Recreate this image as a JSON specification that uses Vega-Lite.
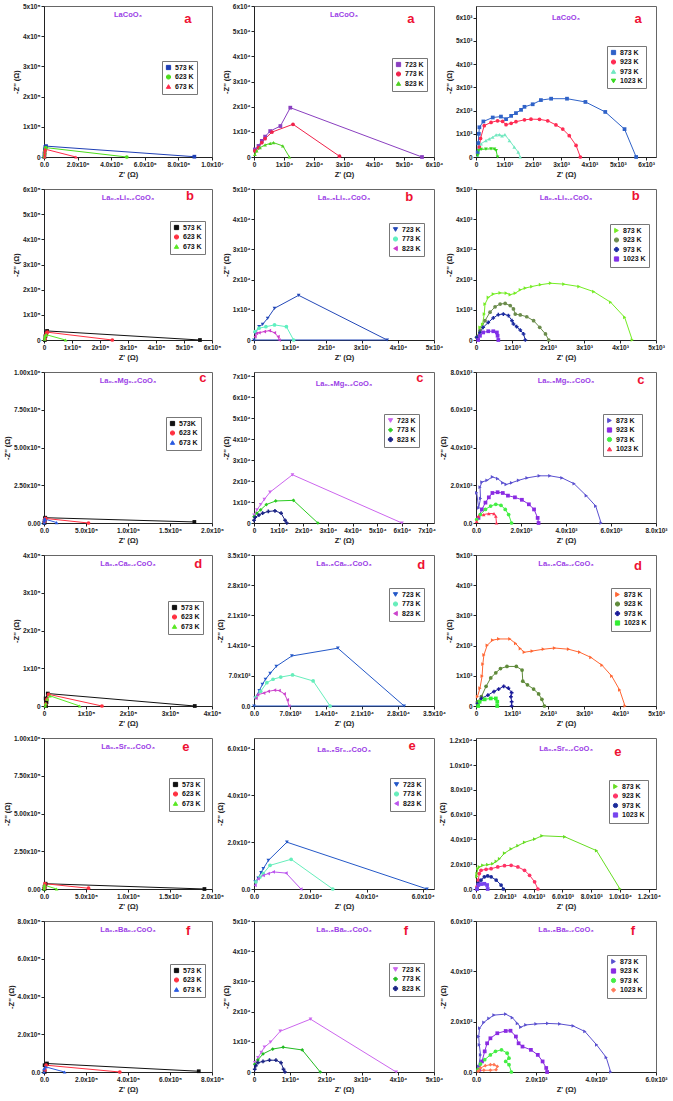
{
"$schema": "https://vega.github.io/schema/vega-lite/v6.json",
"padding": {"left": 2, "top": 2, "right": 0, "bottom": 0},
"background": "white",
"bounds": "flush",
"align": "each",
"columns": 3,
"spacing": {"row": 32, "column": 42},
"resolve": {"scale": {"color": "independent", "shape": "independent"}},
"config": {
 "font": "Liberation Sans",
 "view": {"stroke": "#666", "strokeWidth": 1},
 "axis": {"grid": false, "labelFontSize": 6.5, "labelFontWeight": "bold", "labelColor": "#222", "titleFontSize": 7.5, "titleFontWeight": "bold", "titleColor": "#222", "domainColor": "#222", "tickColor": "#222", "tickSize": 3, "labelPadding": 1, "titlePadding": 3, "labelFlush": false, "labelOverlap": false},
 "axisY": {"titlePadding": 2},
 "legend": {"strokeColor": "#777", "fillColor": "#ffffff", "padding": 3, "labelFontSize": 7, "labelFontWeight": "bold", "labelColor": "#111", "symbolSize": 18, "rowPadding": 0.5, "labelOffset": 3, "symbolStrokeWidth": 1},
 "title": {"font": "Liberation Sans"}
},
"datasets": {
"p11": [
{"s":"573 K","x":20000,"y":0},{"s":"573 K","x":30000,"y":12000},{"s":"573 K","x":50000,"y":25000},{"s":"573 K","x":80000,"y":33000},{"s":"573 K","x":120000,"y":36000},{"s":"573 K","x":8950000,"y":1000},
{"s":"623 K","x":20000,"y":0},{"s":"623 K","x":40000,"y":10000},{"s":"623 K","x":60000,"y":20000},{"s":"623 K","x":90000,"y":28000},{"s":"623 K","x":110000,"y":31000},{"s":"623 K","x":4930000,"y":0},
{"s":"673 K","x":40000,"y":0},{"s":"673 K","x":45000,"y":8000},{"s":"673 K","x":50000,"y":16000},{"s":"673 K","x":60000,"y":23000},{"s":"673 K","x":70000,"y":26000},{"s":"673 K","x":1900000,"y":0}
],
"p12": [
{"s":"723 K","x":300,"y":3000},{"s":"723 K","x":1500,"y":4400},{"s":"723 K","x":2600,"y":6400},{"s":"723 K","x":3700,"y":8100},{"s":"723 K","x":5400,"y":10300},{"s":"723 K","x":8800,"y":12300},{"s":"723 K","x":12100,"y":19600},{"s":"723 K","x":56000,"y":0},
{"s":"773 K","x":300,"y":2400},{"s":"773 K","x":1500,"y":3700},{"s":"773 K","x":2600,"y":5700},{"s":"773 K","x":3700,"y":7300},{"s":"773 K","x":6000,"y":9900},{"s":"773 K","x":13000,"y":13000},{"s":"773 K","x":28500,"y":300},
{"s":"823 K","x":300,"y":1000},{"s":"823 K","x":900,"y":2400},{"s":"823 K","x":2000,"y":3700},{"s":"823 K","x":3700,"y":4800},{"s":"823 K","x":5400,"y":5400},{"s":"823 K","x":6500,"y":5700},{"s":"823 K","x":9600,"y":4400},{"s":"823 K","x":11800,"y":0}
],
"p13": [
{"s":"873 K","x":60,"y":200},{"s":"873 K","x":80,"y":600},{"s":"873 K","x":100,"y":1000},{"s":"873 K","x":120,"y":1280},{"s":"873 K","x":260,"y":1530},{"s":"873 K","x":590,"y":1700},{"s":"873 K","x":880,"y":1740},{"s":"873 K","x":1060,"y":1630},{"s":"873 K","x":1240,"y":1770},{"s":"873 K","x":1410,"y":1890},{"s":"873 K","x":1590,"y":2030},{"s":"873 K","x":1710,"y":2160},{"s":"873 K","x":2000,"y":2270},{"s":"873 K","x":2290,"y":2450},{"s":"873 K","x":2650,"y":2510},{"s":"873 K","x":3210,"y":2510},{"s":"873 K","x":3860,"y":2370},{"s":"873 K","x":4560,"y":1940},{"s":"873 K","x":5240,"y":1200},{"s":"873 K","x":5650,"y":0},
{"s":"923 K","x":120,"y":430},{"s":"923 K","x":160,"y":800},{"s":"923 K","x":290,"y":1350},{"s":"923 K","x":530,"y":1490},{"s":"923 K","x":760,"y":1560},{"s":"923 K","x":940,"y":1530},{"s":"923 K","x":1060,"y":1390},{"s":"923 K","x":1240,"y":1450},{"s":"923 K","x":1410,"y":1520},{"s":"923 K","x":1710,"y":1600},{"s":"923 K","x":1940,"y":1630},{"s":"923 K","x":2240,"y":1620},{"s":"923 K","x":2530,"y":1560},{"s":"923 K","x":2820,"y":1380},{"s":"923 K","x":3060,"y":1200},{"s":"923 K","x":3290,"y":920},{"s":"923 K","x":3530,"y":500},{"s":"923 K","x":3680,"y":0},
{"s":"973 K","x":60,"y":70},{"s":"973 K","x":180,"y":570},{"s":"973 K","x":350,"y":710},{"s":"973 K","x":470,"y":780},{"s":"973 K","x":590,"y":850},{"s":"973 K","x":710,"y":950},{"s":"973 K","x":830,"y":960},{"s":"973 K","x":920,"y":910},{"s":"973 K","x":1020,"y":960},{"s":"973 K","x":1180,"y":710},{"s":"973 K","x":1350,"y":430},{"s":"973 K","x":1490,"y":210},{"s":"973 K","x":1560,"y":0},
{"s":"1023 K","x":60,"y":70},{"s":"1023 K","x":90,"y":280},{"s":"1023 K","x":180,"y":330},{"s":"1023 K","x":350,"y":340},{"s":"1023 K","x":530,"y":350},{"s":"1023 K","x":650,"y":340},{"s":"1023 K","x":710,"y":280},{"s":"1023 K","x":760,"y":0}
],
"p21": [
{"s":"573 K","x":3000,"y":0},{"s":"573 K","x":5000,"y":15000},{"s":"573 K","x":8000,"y":28000},{"s":"573 K","x":11000,"y":36000},{"s":"573 K","x":557000,"y":0},
{"s":"623 K","x":4000,"y":5000},{"s":"623 K","x":6000,"y":18000},{"s":"623 K","x":9000,"y":28000},{"s":"623 K","x":12000,"y":31000},{"s":"623 K","x":244000,"y":0},
{"s":"673 K","x":2000,"y":3000},{"s":"673 K","x":3000,"y":11000},{"s":"673 K","x":5000,"y":18000},{"s":"673 K","x":8000,"y":21000},{"s":"673 K","x":77000,"y":0}
],
"p22": [
{"s":"723 K","x":300,"y":2200},{"s":"723 K","x":1400,"y":4400},{"s":"723 K","x":2400,"y":5200},{"s":"723 K","x":3800,"y":7200},{"s":"723 K","x":5700,"y":10500},{"s":"723 K","x":12400,"y":14800},{"s":"723 K","x":37000,"y":0},{"s":"723 K","x":0,"y":0},
{"s":"773 K","x":300,"y":2800},{"s":"773 K","x":1400,"y":3900},{"s":"773 K","x":3300,"y":4400},{"s":"773 K","x":5700,"y":5000},{"s":"773 K","x":9000,"y":4400},{"s":"773 K","x":11000,"y":0},
{"s":"823 K","x":300,"y":1100},{"s":"823 K","x":700,"y":2200},{"s":"823 K","x":1400,"y":2400},{"s":"823 K","x":2900,"y":2800},{"s":"823 K","x":4300,"y":3100},{"s":"823 K","x":5700,"y":2400},{"s":"823 K","x":6700,"y":1100},{"s":"823 K","x":7000,"y":0}
],
"p23": [
{"s":"873 K","x":40,"y":90},{"s":"873 K","x":110,"y":420},{"s":"873 K","x":180,"y":520},{"s":"873 K","x":230,"y":860},{"s":"873 K","x":250,"y":1190},{"s":"873 K","x":340,"y":1410},{"s":"873 K","x":480,"y":1520},{"s":"873 K","x":670,"y":1560},{"s":"873 K","x":840,"y":1550},{"s":"873 K","x":950,"y":1500},{"s":"873 K","x":1090,"y":1550},{"s":"873 K","x":1230,"y":1660},{"s":"873 K","x":1370,"y":1720},{"s":"873 K","x":1550,"y":1770},{"s":"873 K","x":1790,"y":1830},{"s":"873 K","x":2070,"y":1880},{"s":"873 K","x":2440,"y":1850},{"s":"873 K","x":2860,"y":1770},{"s":"873 K","x":3270,"y":1600},{"s":"873 K","x":3740,"y":1250},{"s":"873 K","x":4130,"y":750},{"s":"873 K","x":4340,"y":0},
{"s":"923 K","x":20,"y":90},{"s":"923 K","x":110,"y":310},{"s":"923 K","x":250,"y":640},{"s":"923 K","x":390,"y":920},{"s":"923 K","x":530,"y":1100},{"s":"923 K","x":670,"y":1190},{"s":"923 K","x":810,"y":1210},{"s":"923 K","x":950,"y":1140},{"s":"923 K","x":1040,"y":1030},{"s":"923 K","x":1090,"y":860},{"s":"923 K","x":1230,"y":830},{"s":"923 K","x":1410,"y":770},{"s":"923 K","x":1600,"y":640},{"s":"923 K","x":1770,"y":420},{"s":"923 K","x":1930,"y":200},{"s":"923 K","x":2020,"y":0},
{"s":"973 K","x":20,"y":90},{"s":"973 K","x":110,"y":250},{"s":"973 K","x":200,"y":420},{"s":"973 K","x":340,"y":580},{"s":"973 K","x":480,"y":730},{"s":"973 K","x":620,"y":840},{"s":"973 K","x":760,"y":860},{"s":"973 K","x":900,"y":810},{"s":"973 K","x":1000,"y":640},{"s":"973 K","x":1040,"y":530},{"s":"973 K","x":1130,"y":440},{"s":"973 K","x":1230,"y":330},{"s":"973 K","x":1320,"y":200},{"s":"973 K","x":1370,"y":0},
{"s":"1023 K","x":60,"y":0},{"s":"1023 K","x":110,"y":140},{"s":"1023 K","x":200,"y":250},{"s":"1023 K","x":340,"y":290},{"s":"1023 K","x":480,"y":290},{"s":"1023 K","x":580,"y":250},{"s":"1023 K","x":600,"y":140},{"s":"1023 K","x":620,"y":0}
],
"p31": [
{"s":"573K","x":5000,"y":0},{"s":"573K","x":8000,"y":15000},{"s":"573K","x":10000,"y":30000},{"s":"573K","x":15000,"y":35000},{"s":"573K","x":1790000,"y":7000},
{"s":"623 K","x":6000,"y":10000},{"s":"623 K","x":10000,"y":25000},{"s":"623 K","x":20000,"y":30000},{"s":"623 K","x":530000,"y":0},
{"s":"673 K","x":3000,"y":0},{"s":"673 K","x":4000,"y":15000},{"s":"673 K","x":6000,"y":28000},{"s":"673 K","x":12000,"y":26000},{"s":"673 K","x":150000,"y":3000}
],
"p32": [
{"s":"723 K","x":0,"y":3800},{"s":"723 K","x":1200,"y":6300},{"s":"723 K","x":2700,"y":8800},{"s":"723 K","x":4200,"y":11300},{"s":"723 K","x":6500,"y":14700},{"s":"723 K","x":15600,"y":23000},{"s":"723 K","x":60000,"y":0},
{"s":"773 K","x":0,"y":3000},{"s":"773 K","x":1200,"y":4700},{"s":"773 K","x":2700,"y":6300},{"s":"773 K","x":5000,"y":8800},{"s":"773 K","x":8800,"y":10500},{"s":"773 K","x":16000,"y":10800},{"s":"773 K","x":25900,"y":0},
{"s":"823 K","x":0,"y":1300},{"s":"823 K","x":500,"y":2700},{"s":"823 K","x":2000,"y":3800},{"s":"823 K","x":3500,"y":4700},{"s":"823 K","x":5800,"y":5500},{"s":"823 K","x":8500,"y":5800},{"s":"823 K","x":11000,"y":4700},{"s":"823 K","x":12600,"y":1300},{"s":"823 K","x":13300,"y":0}
],
"p33": [
{"s":"873 K","x":30,"y":1600},{"s":"873 K","x":120,"y":800},{"s":"873 K","x":200,"y":1300},{"s":"873 K","x":180,"y":1900},{"s":"873 K","x":260,"y":2170},{"s":"873 K","x":490,"y":2260},{"s":"873 K","x":730,"y":2440},{"s":"873 K","x":960,"y":2350},{"s":"873 K","x":1190,"y":2130},{"s":"873 K","x":1340,"y":2040},{"s":"873 K","x":1580,"y":2130},{"s":"873 K","x":1890,"y":2260},{"s":"873 K","x":2270,"y":2390},{"s":"873 K","x":2810,"y":2500},{"s":"873 K","x":3280,"y":2500},{"s":"873 K","x":3820,"y":2390},{"s":"873 K","x":4360,"y":2080},{"s":"873 K","x":4900,"y":1450},{"s":"873 K","x":5320,"y":900},{"s":"873 K","x":5560,"y":0},
{"s":"923 K","x":110,"y":270},{"s":"923 K","x":260,"y":720},{"s":"923 K","x":420,"y":1080},{"s":"923 K","x":570,"y":1360},{"s":"923 K","x":730,"y":1590},{"s":"923 K","x":960,"y":1630},{"s":"923 K","x":1190,"y":1590},{"s":"923 K","x":1420,"y":1450},{"s":"923 K","x":1730,"y":1360},{"s":"923 K","x":2040,"y":1230},{"s":"923 K","x":2350,"y":990},{"s":"923 K","x":2580,"y":720},{"s":"923 K","x":2740,"y":270},{"s":"923 K","x":2780,"y":0},
{"s":"973 K","x":30,"y":180},{"s":"973 K","x":190,"y":450},{"s":"973 K","x":420,"y":720},{"s":"973 K","x":650,"y":900},{"s":"973 K","x":880,"y":990},{"s":"973 K","x":1110,"y":940},{"s":"973 K","x":1300,"y":720},{"s":"973 K","x":1450,"y":450},{"s":"973 K","x":1580,"y":0},
{"s":"1023 K","x":30,"y":90},{"s":"1023 K","x":110,"y":360},{"s":"1023 K","x":340,"y":450},{"s":"1023 K","x":570,"y":500},{"s":"1023 K","x":800,"y":500},{"s":"1023 K","x":880,"y":360},{"s":"1023 K","x":910,"y":0}
],
"p41": [
{"s":"573 K","x":5000,"y":0},{"s":"573 K","x":6000,"y":10000},{"s":"573 K","x":4000,"y":20000},{"s":"573 K","x":9000,"y":33000},{"s":"573 K","x":359000,"y":0},
{"s":"623 K","x":4000,"y":5000},{"s":"623 K","x":7000,"y":18000},{"s":"623 K","x":11000,"y":31000},{"s":"623 K","x":138000,"y":0},
{"s":"673 K","x":3000,"y":0},{"s":"673 K","x":4000,"y":6000},{"s":"673 K","x":8000,"y":18000},{"s":"673 K","x":14000,"y":27000},{"s":"673 K","x":85000,"y":0}
],
"p42": [
{"s":"723 K","x":240,"y":1830},{"s":"723 K","x":1030,"y":3580},{"s":"723 K","x":1630,"y":5000},{"s":"723 K","x":2230,"y":6200},{"s":"723 K","x":3140,"y":7560},{"s":"723 K","x":4340,"y":9200},{"s":"723 K","x":7360,"y":11600},{"s":"723 K","x":16300,"y":13400},{"s":"723 K","x":29200,"y":0},{"s":"723 K","x":0,"y":0},
{"s":"773 K","x":400,"y":2000},{"s":"773 K","x":1300,"y":3400},{"s":"773 K","x":2500,"y":5400},{"s":"773 K","x":3700,"y":6200},{"s":"773 K","x":5200,"y":6700},{"s":"773 K","x":7500,"y":7200},{"s":"773 K","x":11500,"y":5800},{"s":"773 K","x":14800,"y":0},
{"s":"823 K","x":400,"y":1800},{"s":"823 K","x":700,"y":2600},{"s":"823 K","x":1900,"y":3000},{"s":"823 K","x":2800,"y":3400},{"s":"823 K","x":4000,"y":3660},{"s":"823 K","x":4900,"y":3580},{"s":"823 K","x":5900,"y":2800},{"s":"823 K","x":6500,"y":1400},{"s":"823 K","x":6800,"y":0}
],
"p43": [
{"s":"873 K","x":40,"y":310},{"s":"873 K","x":110,"y":590},{"s":"873 K","x":170,"y":990},{"s":"873 K","x":190,"y":1390},{"s":"873 K","x":220,"y":1690},{"s":"873 K","x":310,"y":2010},{"s":"873 K","x":460,"y":2180},{"s":"873 K","x":630,"y":2220},{"s":"873 K","x":940,"y":2220},{"s":"873 K","x":1100,"y":2070},{"s":"873 K","x":1230,"y":1900},{"s":"873 K","x":1340,"y":1780},{"s":"873 K","x":1560,"y":1820},{"s":"873 K","x":1870,"y":1880},{"s":"873 K","x":2180,"y":1920},{"s":"873 K","x":2570,"y":1880},{"s":"873 K","x":2880,"y":1780},{"s":"873 K","x":3190,"y":1610},{"s":"873 K","x":3500,"y":1350},{"s":"873 K","x":3770,"y":990},{"s":"873 K","x":3990,"y":530},{"s":"873 K","x":4140,"y":0},
{"s":"923 K","x":40,"y":140},{"s":"923 K","x":150,"y":310},{"s":"923 K","x":280,"y":650},{"s":"923 K","x":410,"y":930},{"s":"923 K","x":550,"y":1100},{"s":"923 K","x":680,"y":1240},{"s":"923 K","x":860,"y":1310},{"s":"923 K","x":1120,"y":1310},{"s":"923 K","x":1280,"y":1190},{"s":"923 K","x":1300,"y":820},{"s":"923 K","x":1430,"y":700},{"s":"923 K","x":1600,"y":560},{"s":"923 K","x":1740,"y":400},{"s":"923 K","x":1830,"y":220},{"s":"923 K","x":1900,"y":0},
{"s":"973 K","x":40,"y":80},{"s":"973 K","x":150,"y":250},{"s":"973 K","x":330,"y":360},{"s":"973 K","x":500,"y":480},{"s":"973 K","x":630,"y":560},{"s":"973 K","x":770,"y":650},{"s":"973 K","x":900,"y":590},{"s":"973 K","x":990,"y":440},{"s":"973 K","x":970,"y":310},{"s":"973 K","x":990,"y":140},{"s":"973 K","x":990,"y":0},
{"s":"1023 K","x":60,"y":0},{"s":"1023 K","x":100,"y":140},{"s":"1023 K","x":240,"y":220},{"s":"1023 K","x":410,"y":250},{"s":"1023 K","x":550,"y":250},{"s":"1023 K","x":590,"y":140},{"s":"1023 K","x":590,"y":0}
],
"p51": [
{"s":"573 K","x":5000,"y":0},{"s":"573 K","x":7000,"y":15000},{"s":"573 K","x":19000,"y":35000},{"s":"573 K","x":1910000,"y":0},
{"s":"623 K","x":5000,"y":5000},{"s":"623 K","x":8000,"y":20000},{"s":"623 K","x":12000,"y":35000},{"s":"623 K","x":530000,"y":5000},
{"s":"673 K","x":3000,"y":0},{"s":"673 K","x":4000,"y":12000},{"s":"673 K","x":6000,"y":25000},{"s":"673 K","x":150000,"y":0}
],
"p52": [
{"s":"723 K","x":400,"y":3000},{"s":"723 K","x":1500,"y":4700},{"s":"723 K","x":2500,"y":7000},{"s":"723 K","x":3300,"y":8700},{"s":"723 K","x":5100,"y":12200},{"s":"723 K","x":11700,"y":20000},{"s":"723 K","x":61500,"y":0},
{"s":"773 K","x":700,"y":3000},{"s":"773 K","x":2100,"y":5100},{"s":"773 K","x":3300,"y":6600},{"s":"773 K","x":5700,"y":10100},{"s":"773 K","x":13200,"y":12700},{"s":"773 K","x":28000,"y":0},
{"s":"823 K","x":400,"y":1600},{"s":"823 K","x":1500,"y":4400},{"s":"823 K","x":3300,"y":5800},{"s":"823 K","x":5100,"y":6600},{"s":"823 K","x":6900,"y":7300},{"s":"823 K","x":11400,"y":6800},{"s":"823 K","x":16700,"y":0}
],
"p53": [
{"s":"873 K","x":50,"y":1000},{"s":"873 K","x":70,"y":1250},{"s":"873 K","x":120,"y":1640},{"s":"873 K","x":230,"y":1780},{"s":"873 K","x":470,"y":1910},{"s":"873 K","x":810,"y":1960},{"s":"873 K","x":1160,"y":2040},{"s":"873 K","x":1400,"y":2230},{"s":"873 K","x":1630,"y":2440},{"s":"873 K","x":1980,"y":2890},{"s":"873 K","x":2440,"y":3240},{"s":"873 K","x":2910,"y":3500},{"s":"873 K","x":3370,"y":3770},{"s":"873 K","x":4070,"y":4030},{"s":"873 K","x":4580,"y":4300},{"s":"873 K","x":6160,"y":4220},{"s":"873 K","x":8370,"y":3100},{"s":"873 K","x":10000,"y":0},
{"s":"923 K","x":70,"y":180},{"s":"923 K","x":160,"y":720},{"s":"923 K","x":230,"y":1250},{"s":"923 K","x":350,"y":1510},{"s":"923 K","x":700,"y":1590},{"s":"923 K","x":1050,"y":1640},{"s":"923 K","x":1510,"y":1780},{"s":"923 K","x":1980,"y":1880},{"s":"923 K","x":2440,"y":1910},{"s":"923 K","x":2910,"y":1780},{"s":"923 K","x":3370,"y":1510},{"s":"923 K","x":3720,"y":1110},{"s":"923 K","x":4070,"y":580},{"s":"923 K","x":4300,"y":0},
{"s":"973 K","x":70,"y":0},{"s":"973 K","x":160,"y":450},{"s":"973 K","x":350,"y":720},{"s":"973 K","x":580,"y":980},{"s":"973 K","x":810,"y":1060},{"s":"973 K","x":1050,"y":980},{"s":"973 K","x":1400,"y":720},{"s":"973 K","x":1740,"y":320},{"s":"973 K","x":1900,"y":0},
{"s":"1023 K","x":70,"y":0},{"s":"1023 K","x":160,"y":320},{"s":"1023 K","x":350,"y":400},{"s":"1023 K","x":580,"y":420},{"s":"1023 K","x":770,"y":320},{"s":"1023 K","x":810,"y":0}
],
"p61": [
{"s":"573 K","x":3000,"y":0},{"s":"573 K","x":3000,"y":36000},{"s":"573 K","x":14000,"y":45000},{"s":"573 K","x":737000,"y":4000},
{"s":"623 K","x":5000,"y":10000},{"s":"623 K","x":10000,"y":36000},{"s":"623 K","x":361000,"y":0},
{"s":"673 K","x":0,"y":0},{"s":"673 K","x":0,"y":18000},{"s":"673 K","x":8000,"y":27000},{"s":"673 K","x":98000,"y":0}
],
"p62": [
{"s":"723 K","x":200,"y":3100},{"s":"723 K","x":1100,"y":4800},{"s":"723 K","x":2000,"y":6500},{"s":"723 K","x":2900,"y":8200},{"s":"723 K","x":4600,"y":9900},{"s":"723 K","x":7300,"y":13500},{"s":"723 K","x":15700,"y":17500},{"s":"723 K","x":39500,"y":0},
{"s":"773 K","x":200,"y":2600},{"s":"773 K","x":1100,"y":4000},{"s":"773 K","x":2500,"y":6000},{"s":"773 K","x":5200,"y":7600},{"s":"773 K","x":8100,"y":8200},{"s":"773 K","x":13400,"y":7300},{"s":"773 K","x":18400,"y":0},
{"s":"823 K","x":200,"y":900},{"s":"823 K","x":500,"y":2100},{"s":"823 K","x":1100,"y":3100},{"s":"823 K","x":2500,"y":3500},{"s":"823 K","x":4300,"y":3900},{"s":"823 K","x":6100,"y":3900},{"s":"823 K","x":7500,"y":3100},{"s":"823 K","x":8200,"y":900},{"s":"823 K","x":8600,"y":0}
],
"p63": [
{"s":"873 K","x":90,"y":220},{"s":"873 K","x":150,"y":680},{"s":"873 K","x":110,"y":1080},{"s":"873 K","x":90,"y":1410},{"s":"873 K","x":120,"y":1740},{"s":"873 K","x":260,"y":1970},{"s":"873 K","x":430,"y":2130},{"s":"873 K","x":600,"y":2260},{"s":"873 K","x":990,"y":2300},{"s":"873 K","x":1210,"y":2160},{"s":"873 K","x":1380,"y":1930},{"s":"873 K","x":1490,"y":1780},{"s":"873 K","x":1660,"y":1870},{"s":"873 K","x":2000,"y":1910},{"s":"873 K","x":2390,"y":1930},{"s":"873 K","x":2790,"y":1910},{"s":"873 K","x":3240,"y":1830},{"s":"873 K","x":3630,"y":1610},{"s":"873 K","x":4020,"y":1080},{"s":"873 K","x":4340,"y":580},{"s":"873 K","x":4490,"y":0},
{"s":"923 K","x":110,"y":90},{"s":"923 K","x":200,"y":420},{"s":"923 K","x":290,"y":820},{"s":"923 K","x":370,"y":1140},{"s":"923 K","x":480,"y":1340},{"s":"923 K","x":710,"y":1540},{"s":"923 K","x":990,"y":1630},{"s":"923 K","x":1150,"y":1640},{"s":"923 K","x":1330,"y":1410},{"s":"923 K","x":1420,"y":1140},{"s":"923 K","x":1550,"y":1010},{"s":"923 K","x":1830,"y":880},{"s":"923 K","x":2060,"y":680},{"s":"923 K","x":2220,"y":420},{"s":"923 K","x":2340,"y":160},{"s":"923 K","x":2370,"y":0},
{"s":"973 K","x":70,"y":90},{"s":"973 K","x":150,"y":320},{"s":"973 K","x":290,"y":490},{"s":"973 K","x":480,"y":680},{"s":"973 K","x":650,"y":820},{"s":"973 K","x":850,"y":880},{"s":"973 K","x":1040,"y":750},{"s":"973 K","x":1100,"y":550},{"s":"973 K","x":990,"y":420},{"s":"973 K","x":1100,"y":290},{"s":"973 K","x":1180,"y":0},
{"s":"1023 K","x":70,"y":30},{"s":"1023 K","x":150,"y":160},{"s":"1023 K","x":310,"y":250},{"s":"1023 K","x":480,"y":290},{"s":"1023 K","x":600,"y":290},{"s":"1023 K","x":710,"y":220},{"s":"1023 K","x":670,"y":90},{"s":"1023 K","x":480,"y":70},{"s":"1023 K","x":260,"y":70},{"s":"1023 K","x":90,"y":50}
]
},
"concat": [
{"width":168,"height":151,"title":{"text":"LaCoO₃","offset":-15,"frame":"group","color":"#9b40e6","fontSize":7.5,"fontWeight":"bold"},
 "resolve":{"axis":{"x":"independent","y":"independent"}},
 "layer":[
  {"data":{"name":"p11"},
   "encoding":{
    "x":{"field":"x","type":"quantitative","scale":{"domain":[0,10000000],"nice":false},"axis":{"title":"Z' (Ω)","values":[0,2000000,4000000,6000000,8000000,10000000],"format":".1e","labelExpr":"datum.value == 0 ? substring(datum.label, 0, indexof(datum.label, 'e')) : substring(datum.label, 0, indexof(datum.label, 'e')) + 'x10' + substring('⁰¹²³⁴⁵⁶⁷⁸⁹', toNumber(substring(datum.label, indexof(datum.label, 'e') + 2)), toNumber(substring(datum.label, indexof(datum.label, 'e') + 2)) + 1)"}},
    "y":{"field":"y","type":"quantitative","scale":{"domain":[0,500000],"nice":false},"axis":{"title":"-Z'' (Ω)","values":[0,100000,200000,300000,400000,500000],"format":".0e","labelExpr":"datum.value == 0 ? substring(datum.label, 0, indexof(datum.label, 'e')) : substring(datum.label, 0, indexof(datum.label, 'e')) + 'x10' + substring('⁰¹²³⁴⁵⁶⁷⁸⁹', toNumber(substring(datum.label, indexof(datum.label, 'e') + 2)), toNumber(substring(datum.label, indexof(datum.label, 'e') + 2)) + 1)"}}},
   "layer":[
    {"mark":{"type":"line","strokeWidth":1},"encoding":{"color":{"field":"s","type":"nominal","scale":{"domain":["573 K","623 K","673 K"],"range":["#1f3fb5","#4cdc1c","#ff2a4a"]},"legend":{"title":null,"orient":"none","legendX":118,"legendY":55}},"order":{"value":null}}},
    {"mark":{"type":"point","filled":true,"size":14,"opacity":1},"encoding":{"color":{"field":"s","type":"nominal","legend":{"title":null,"orient":"none","legendX":118,"legendY":55}},"shape":{"field":"s","type":"nominal","scale":{"domain":["573 K","623 K","673 K"],"range":["square","circle","triangle-up"]},"legend":{"title":null,"orient":"none","legendX":118,"legendY":55}}}}
   ]},
  {"data":{"values":[{"t":"a"}]},"mark":{"type":"text","color":"#ee1133","fontSize":13,"fontWeight":"bold","baseline":"middle","align":"center"},"encoding":{"x":{"datum":8570000,"type":"quantitative","axis":null},"y":{"datum":457000,"type":"quantitative","axis":null},"text":{"field":"t","type":"nominal"}}}
 ]},
{"width":180,"height":151,"title":{"text":"LaCoO₃","offset":-15,"frame":"group","color":"#9b40e6","fontSize":7.5,"fontWeight":"bold"},
 "resolve":{"axis":{"x":"independent","y":"independent"}},
 "layer":[
  {"data":{"name":"p12"},
   "encoding":{
    "x":{"field":"x","type":"quantitative","scale":{"domain":[0,60000],"nice":false},"axis":{"title":"Z' (Ω)","values":[0,10000,20000,30000,40000,50000,60000],"format":".0e","labelExpr":"datum.value == 0 ? substring(datum.label, 0, indexof(datum.label, 'e')) : substring(datum.label, 0, indexof(datum.label, 'e')) + 'x10' + substring('⁰¹²³⁴⁵⁶⁷⁸⁹', toNumber(substring(datum.label, indexof(datum.label, 'e') + 2)), toNumber(substring(datum.label, indexof(datum.label, 'e') + 2)) + 1)"}},
    "y":{"field":"y","type":"quantitative","scale":{"domain":[0,60000],"nice":false},"axis":{"title":"-Z'' (Ω)","values":[0,10000,20000,30000,40000,50000,60000],"format":".0e","labelExpr":"datum.value == 0 ? substring(datum.label, 0, indexof(datum.label, 'e')) : substring(datum.label, 0, indexof(datum.label, 'e')) + 'x10' + substring('⁰¹²³⁴⁵⁶⁷⁸⁹', toNumber(substring(datum.label, indexof(datum.label, 'e') + 2)), toNumber(substring(datum.label, indexof(datum.label, 'e') + 2)) + 1)"}}},
   "layer":[
    {"mark":{"type":"line","strokeWidth":1},"encoding":{"color":{"field":"s","type":"nominal","scale":{"domain":["723 K","773 K","823 K"],"range":["#8a3fc0","#f0224a","#4fd022"]},"legend":{"title":null,"orient":"none","legendX":138,"legendY":52}},"order":{"value":null}}},
    {"mark":{"type":"point","filled":true,"size":14,"opacity":1},"encoding":{"color":{"field":"s","type":"nominal","legend":{"title":null,"orient":"none","legendX":138,"legendY":52}},"shape":{"field":"s","type":"nominal","scale":{"domain":["723 K","773 K","823 K"],"range":["square","circle","triangle-up"]},"legend":{"title":null,"orient":"none","legendX":138,"legendY":52}}}}
   ]},
  {"data":{"values":[{"t":"a"}]},"mark":{"type":"text","color":"#ee1133","fontSize":13,"fontWeight":"bold","baseline":"middle","align":"center"},"encoding":{"x":{"datum":52300,"type":"quantitative","axis":null},"y":{"datum":54800,"type":"quantitative","axis":null},"text":{"field":"t","type":"nominal"}}}
 ]},
{"width":180,"height":151,"title":{"text":"LaCoO₃","offset":-15,"frame":"group","color":"#9b40e6","fontSize":7.5,"fontWeight":"bold"},
 "resolve":{"axis":{"x":"independent","y":"independent"}},
 "layer":[
  {"data":{"name":"p13"},
   "encoding":{
    "x":{"field":"x","type":"quantitative","scale":{"domain":[0,6350],"nice":false},"axis":{"title":"Z' (Ω)","values":[0,1000,2000,3000,4000,5000,6000],"format":".0e","labelExpr":"datum.value == 0 ? substring(datum.label, 0, indexof(datum.label, 'e')) : substring(datum.label, 0, indexof(datum.label, 'e')) + 'x10' + substring('⁰¹²³⁴⁵⁶⁷⁸⁹', toNumber(substring(datum.label, indexof(datum.label, 'e') + 2)), toNumber(substring(datum.label, indexof(datum.label, 'e') + 2)) + 1)"}},
    "y":{"field":"y","type":"quantitative","scale":{"domain":[0,6500],"nice":false},"axis":{"title":"-Z'' (Ω)","values":[0,1000,2000,3000,4000,5000,6000],"format":".0e","labelExpr":"datum.value == 0 ? substring(datum.label, 0, indexof(datum.label, 'e')) : substring(datum.label, 0, indexof(datum.label, 'e')) + 'x10' + substring('⁰¹²³⁴⁵⁶⁷⁸⁹', toNumber(substring(datum.label, indexof(datum.label, 'e') + 2)), toNumber(substring(datum.label, indexof(datum.label, 'e') + 2)) + 1)"}}},
   "layer":[
    {"mark":{"type":"line","strokeWidth":1},"encoding":{"color":{"field":"s","type":"nominal","scale":{"domain":["873 K","923 K","973 K","1023 K"],"range":["#2f62c8","#ff2a52","#72e8c0","#34d81c"]},"legend":{"title":null,"orient":"none","legendX":131,"legendY":40}},"order":{"value":null}}},
    {"mark":{"type":"point","filled":true,"size":14,"opacity":1},"encoding":{"color":{"field":"s","type":"nominal","legend":{"title":null,"orient":"none","legendX":131,"legendY":40}},"shape":{"field":"s","type":"nominal","scale":{"domain":["873 K","923 K","973 K","1023 K"],"range":["square","circle","triangle-up","triangle-down"]},"legend":{"title":null,"orient":"none","legendX":131,"legendY":40}}}}
   ]},
  {"data":{"values":[{"t":"a"}]},"mark":{"type":"text","color":"#ee1133","fontSize":13,"fontWeight":"bold","baseline":"middle","align":"center"},"encoding":{"x":{"datum":5720,"type":"quantitative","axis":null},"y":{"datum":5940,"type":"quantitative","axis":null},"text":{"field":"t","type":"nominal"}}}
 ]},
{"width":168,"height":151,"title":{"text":"La₀.₈Li₀.₂CoO₃","offset":-15,"frame":"group","color":"#9b40e6","fontSize":7.5,"fontWeight":"bold"},
 "resolve":{"axis":{"x":"independent","y":"independent"}},
 "layer":[
  {"data":{"name":"p21"},
   "encoding":{
    "x":{"field":"x","type":"quantitative","scale":{"domain":[0,600000],"nice":false},"axis":{"title":"Z' (Ω)","values":[0,100000,200000,300000,400000,500000,600000],"format":".0e","labelExpr":"datum.value == 0 ? substring(datum.label, 0, indexof(datum.label, 'e')) : substring(datum.label, 0, indexof(datum.label, 'e')) + 'x10' + substring('⁰¹²³⁴⁵⁶⁷⁸⁹', toNumber(substring(datum.label, indexof(datum.label, 'e') + 2)), toNumber(substring(datum.label, indexof(datum.label, 'e') + 2)) + 1)"}},
    "y":{"field":"y","type":"quantitative","scale":{"domain":[0,600000],"nice":false},"axis":{"title":"-Z'' (Ω)","values":[0,100000,200000,300000,400000,500000,600000],"format":".0e","labelExpr":"datum.value == 0 ? substring(datum.label, 0, indexof(datum.label, 'e')) : substring(datum.label, 0, indexof(datum.label, 'e')) + 'x10' + substring('⁰¹²³⁴⁵⁶⁷⁸⁹', toNumber(substring(datum.label, indexof(datum.label, 'e') + 2)), toNumber(substring(datum.label, indexof(datum.label, 'e') + 2)) + 1)"}}},
   "layer":[
    {"mark":{"type":"line","strokeWidth":1},"encoding":{"color":{"field":"s","type":"nominal","scale":{"domain":["573 K","623 K","673 K"],"range":["#111111","#ff3040","#5ae824"]},"legend":{"title":null,"orient":"none","legendX":126,"legendY":32}},"order":{"value":null}}},
    {"mark":{"type":"point","filled":true,"size":14,"opacity":1},"encoding":{"color":{"field":"s","type":"nominal","legend":{"title":null,"orient":"none","legendX":126,"legendY":32}},"shape":{"field":"s","type":"nominal","scale":{"domain":["573 K","623 K","673 K"],"range":["square","circle","triangle-up"]},"legend":{"title":null,"orient":"none","legendX":126,"legendY":32}}}}
   ]},
  {"data":{"values":[{"t":"b"}]},"mark":{"type":"text","color":"#ee1133","fontSize":13,"fontWeight":"bold","baseline":"middle","align":"center"},"encoding":{"x":{"datum":521000,"type":"quantitative","axis":null},"y":{"datum":572000,"type":"quantitative","axis":null},"text":{"field":"t","type":"nominal"}}}
 ]},
{"width":180,"height":151,"title":{"text":"La₀.₈Li₀.₂CoO₃","offset":-15,"frame":"group","color":"#9b40e6","fontSize":7.5,"fontWeight":"bold"},
 "resolve":{"axis":{"x":"independent","y":"independent"}},
 "layer":[
  {"data":{"name":"p22"},
   "encoding":{
    "x":{"field":"x","type":"quantitative","scale":{"domain":[0,50000],"nice":false},"axis":{"title":"Z' (Ω)","values":[0,10000,20000,30000,40000,50000],"format":".0e","labelExpr":"datum.value == 0 ? substring(datum.label, 0, indexof(datum.label, 'e')) : substring(datum.label, 0, indexof(datum.label, 'e')) + 'x10' + substring('⁰¹²³⁴⁵⁶⁷⁸⁹', toNumber(substring(datum.label, indexof(datum.label, 'e') + 2)), toNumber(substring(datum.label, indexof(datum.label, 'e') + 2)) + 1)"}},
    "y":{"field":"y","type":"quantitative","scale":{"domain":[0,50000],"nice":false},"axis":{"title":"-Z'' (Ω)","values":[0,10000,20000,30000,40000,50000],"format":".0e","labelExpr":"datum.value == 0 ? substring(datum.label, 0, indexof(datum.label, 'e')) : substring(datum.label, 0, indexof(datum.label, 'e')) + 'x10' + substring('⁰¹²³⁴⁵⁶⁷⁸⁹', toNumber(substring(datum.label, indexof(datum.label, 'e') + 2)), toNumber(substring(datum.label, indexof(datum.label, 'e') + 2)) + 1)"}}},
   "layer":[
    {"mark":{"type":"line","strokeWidth":1},"encoding":{"color":{"field":"s","type":"nominal","scale":{"domain":["723 K","773 K","823 K"],"range":["#2448b8","#5ef0c0","#cc3ccc"]},"legend":{"title":null,"orient":"none","legendX":135,"legendY":34}},"order":{"value":null}}},
    {"mark":{"type":"point","filled":true,"size":14,"opacity":1},"encoding":{"color":{"field":"s","type":"nominal","legend":{"title":null,"orient":"none","legendX":135,"legendY":34}},"shape":{"field":"s","type":"nominal","scale":{"domain":["723 K","773 K","823 K"],"range":["triangle-down","circle","triangle-left"]},"legend":{"title":null,"orient":"none","legendX":135,"legendY":34}}}}
   ]},
  {"data":{"values":[{"t":"b"}]},"mark":{"type":"text","color":"#ee1133","fontSize":13,"fontWeight":"bold","baseline":"middle","align":"center"},"encoding":{"x":{"datum":43100,"type":"quantitative","axis":null},"y":{"datum":47400,"type":"quantitative","axis":null},"text":{"field":"t","type":"nominal"}}}
 ]},
{"width":180,"height":151,"title":{"text":"La₀.₈Li₀.₂CoO₃","offset":-15,"frame":"group","color":"#9b40e6","fontSize":7.5,"fontWeight":"bold"},
 "resolve":{"axis":{"x":"independent","y":"independent"}},
 "layer":[
  {"data":{"name":"p23"},
   "encoding":{
    "x":{"field":"x","type":"quantitative","scale":{"domain":[0,5000],"nice":false},"axis":{"title":"Z' (Ω)","values":[0,1000,2000,3000,4000,5000],"format":".0e","labelExpr":"datum.value == 0 ? substring(datum.label, 0, indexof(datum.label, 'e')) : substring(datum.label, 0, indexof(datum.label, 'e')) + 'x10' + substring('⁰¹²³⁴⁵⁶⁷⁸⁹', toNumber(substring(datum.label, indexof(datum.label, 'e') + 2)), toNumber(substring(datum.label, indexof(datum.label, 'e') + 2)) + 1)"}},
    "y":{"field":"y","type":"quantitative","scale":{"domain":[0,5000],"nice":false},"axis":{"title":"-Z'' (Ω)","values":[0,1000,2000,3000,4000,5000],"format":".0e","labelExpr":"datum.value == 0 ? substring(datum.label, 0, indexof(datum.label, 'e')) : substring(datum.label, 0, indexof(datum.label, 'e')) + 'x10' + substring('⁰¹²³⁴⁵⁶⁷⁸⁹', toNumber(substring(datum.label, indexof(datum.label, 'e') + 2)), toNumber(substring(datum.label, indexof(datum.label, 'e') + 2)) + 1)"}}},
   "layer":[
    {"mark":{"type":"line","strokeWidth":1},"encoding":{"color":{"field":"s","type":"nominal","scale":{"domain":["873 K","923 K","973 K","1023 K"],"range":["#74ec24","#6b8c4c","#1a2aa0","#8030e8"]},"legend":{"title":null,"orient":"none","legendX":134,"legendY":35}},"order":{"value":null}}},
    {"mark":{"type":"point","filled":true,"size":14,"opacity":1},"encoding":{"color":{"field":"s","type":"nominal","legend":{"title":null,"orient":"none","legendX":134,"legendY":35}},"shape":{"field":"s","type":"nominal","scale":{"domain":["873 K","923 K","973 K","1023 K"],"range":["triangle-right","circle","cross","square"]},"legend":{"title":null,"orient":"none","legendX":134,"legendY":35}}}}
   ]},
  {"data":{"values":[{"t":"b"}]},"mark":{"type":"text","color":"#ee1133","fontSize":13,"fontWeight":"bold","baseline":"middle","align":"center"},"encoding":{"x":{"datum":4440,"type":"quantitative","axis":null},"y":{"datum":4770,"type":"quantitative","axis":null},"text":{"field":"t","type":"nominal"}}}
 ]},
{"width":168,"height":151,"title":{"text":"La₀.₈Mg₀.₂CoO₃","offset":-15,"frame":"group","color":"#9b40e6","fontSize":7.5,"fontWeight":"bold"},
 "resolve":{"axis":{"x":"independent","y":"independent"}},
 "layer":[
  {"data":{"name":"p31"},
   "encoding":{
    "x":{"field":"x","type":"quantitative","scale":{"domain":[0,2000000],"nice":false},"axis":{"title":"Z' (Ω)","values":[0,500000,1000000,1500000,2000000],"format":".1e","labelExpr":"datum.value == 0 ? substring(datum.label, 0, indexof(datum.label, 'e')) : substring(datum.label, 0, indexof(datum.label, 'e')) + 'x10' + substring('⁰¹²³⁴⁵⁶⁷⁸⁹', toNumber(substring(datum.label, indexof(datum.label, 'e') + 2)), toNumber(substring(datum.label, indexof(datum.label, 'e') + 2)) + 1)"}},
    "y":{"field":"y","type":"quantitative","scale":{"domain":[0,1000000],"nice":false},"axis":{"title":"-Z'' (Ω)","values":[0,250000,500000,750000,1000000],"format":".2e","labelExpr":"datum.value == 0 ? substring(datum.label, 0, indexof(datum.label, 'e')) : substring(datum.label, 0, indexof(datum.label, 'e')) + 'x10' + substring('⁰¹²³⁴⁵⁶⁷⁸⁹', toNumber(substring(datum.label, indexof(datum.label, 'e') + 2)), toNumber(substring(datum.label, indexof(datum.label, 'e') + 2)) + 1)"}}},
   "layer":[
    {"mark":{"type":"line","strokeWidth":1},"encoding":{"color":{"field":"s","type":"nominal","scale":{"domain":["573K","623 K","673 K"],"range":["#111111","#ff3040","#2a5ae0"]},"legend":{"title":null,"orient":"none","legendX":122,"legendY":45}},"order":{"value":null}}},
    {"mark":{"type":"point","filled":true,"size":14,"opacity":1},"encoding":{"color":{"field":"s","type":"nominal","legend":{"title":null,"orient":"none","legendX":122,"legendY":45}},"shape":{"field":"s","type":"nominal","scale":{"domain":["573K","623 K","673 K"],"range":["square","circle","triangle-up"]},"legend":{"title":null,"orient":"none","legendX":122,"legendY":45}}}}
   ]},
  {"data":{"values":[{"t":"c"}]},"mark":{"type":"text","color":"#ee1133","fontSize":13,"fontWeight":"bold","baseline":"middle","align":"center"},"encoding":{"x":{"datum":1890000,"type":"quantitative","axis":null},"y":{"datum":960000,"type":"quantitative","axis":null},"text":{"field":"t","type":"nominal"}}}
 ]},
{"width":180,"height":151,"title":{"text":"La₀.₈Mg₀.₂CoO₃","offset":-15,"frame":"group","color":"#9b40e6","fontSize":7.5,"fontWeight":"bold"},
 "resolve":{"axis":{"x":"independent","y":"independent"}},
 "layer":[
  {"data":{"name":"p32"},
   "encoding":{
    "x":{"field":"x","type":"quantitative","scale":{"domain":[0,73000],"nice":false},"axis":{"title":"Z' (Ω)","values":[0,10000,20000,30000,40000,50000,60000,70000],"format":".0e","labelExpr":"datum.value == 0 ? substring(datum.label, 0, indexof(datum.label, 'e')) : substring(datum.label, 0, indexof(datum.label, 'e')) + 'x10' + substring('⁰¹²³⁴⁵⁶⁷⁸⁹', toNumber(substring(datum.label, indexof(datum.label, 'e') + 2)), toNumber(substring(datum.label, indexof(datum.label, 'e') + 2)) + 1)"}},
    "y":{"field":"y","type":"quantitative","scale":{"domain":[0,72000],"nice":false},"axis":{"title":"-Z'' (Ω)","values":[0,10000,20000,30000,40000,50000,60000,70000],"format":".0e","labelExpr":"datum.value == 0 ? substring(datum.label, 0, indexof(datum.label, 'e')) : substring(datum.label, 0, indexof(datum.label, 'e')) + 'x10' + substring('⁰¹²³⁴⁵⁶⁷⁸⁹', toNumber(substring(datum.label, indexof(datum.label, 'e') + 2)), toNumber(substring(datum.label, indexof(datum.label, 'e') + 2)) + 1)"}}},
   "layer":[
    {"mark":{"type":"line","strokeWidth":1},"encoding":{"color":{"field":"s","type":"nominal","scale":{"domain":["723 K","773 K","823 K"],"range":["#cc66ee","#2ccc22","#1a2384"]},"legend":{"title":null,"orient":"none","legendX":130,"legendY":42}},"order":{"value":null}}},
    {"mark":{"type":"point","filled":true,"size":14,"opacity":1},"encoding":{"color":{"field":"s","type":"nominal","legend":{"title":null,"orient":"none","legendX":130,"legendY":42}},"shape":{"field":"s","type":"nominal","scale":{"domain":["723 K","773 K","823 K"],"range":["triangle-down","diamond","cross"]},"legend":{"title":null,"orient":"none","legendX":130,"legendY":42}}}}
   ]},
  {"data":{"values":[{"t":"c"}]},"mark":{"type":"text","color":"#ee1133","fontSize":13,"fontWeight":"bold","baseline":"middle","align":"center"},"encoding":{"x":{"datum":67300,"type":"quantitative","axis":null},"y":{"datum":69000,"type":"quantitative","axis":null},"text":{"field":"t","type":"nominal"}}}
 ]},
{"width":180,"height":151,"title":{"text":"La₀.₈Mg₀.₂CoO₃","offset":-15,"frame":"group","color":"#9b40e6","fontSize":7.5,"fontWeight":"bold"},
 "resolve":{"axis":{"x":"independent","y":"independent"}},
 "layer":[
  {"data":{"name":"p33"},
   "encoding":{
    "x":{"field":"x","type":"quantitative","scale":{"domain":[0,8000],"nice":false},"axis":{"title":"Z' (Ω)","values":[0,2000,4000,6000,8000],"format":".1e","labelExpr":"datum.value == 0 ? substring(datum.label, 0, indexof(datum.label, 'e')) : substring(datum.label, 0, indexof(datum.label, 'e')) + 'x10' + substring('⁰¹²³⁴⁵⁶⁷⁸⁹', toNumber(substring(datum.label, indexof(datum.label, 'e') + 2)), toNumber(substring(datum.label, indexof(datum.label, 'e') + 2)) + 1)"}},
    "y":{"field":"y","type":"quantitative","scale":{"domain":[0,8000],"nice":false},"axis":{"title":"-Z'' (Ω)","values":[0,2000,4000,6000,8000],"format":".1e","labelExpr":"datum.value == 0 ? substring(datum.label, 0, indexof(datum.label, 'e')) : substring(datum.label, 0, indexof(datum.label, 'e')) + 'x10' + substring('⁰¹²³⁴⁵⁶⁷⁸⁹', toNumber(substring(datum.label, indexof(datum.label, 'e') + 2)), toNumber(substring(datum.label, indexof(datum.label, 'e') + 2)) + 1)"}}},
   "layer":[
    {"mark":{"type":"line","strokeWidth":1},"encoding":{"color":{"field":"s","type":"nominal","scale":{"domain":["873 K","923 K","973 K","1023 K"],"range":["#5a50d0","#8a2be2","#44ee44","#ff3355"]},"legend":{"title":null,"orient":"none","legendX":127,"legendY":42}},"order":{"value":null}}},
    {"mark":{"type":"point","filled":true,"size":14,"opacity":1},"encoding":{"color":{"field":"s","type":"nominal","legend":{"title":null,"orient":"none","legendX":127,"legendY":42}},"shape":{"field":"s","type":"nominal","scale":{"domain":["873 K","923 K","973 K","1023 K"],"range":["triangle-right","square","circle","triangle-up"]},"legend":{"title":null,"orient":"none","legendX":127,"legendY":42}}}}
   ]},
  {"data":{"values":[{"t":"c"}]},"mark":{"type":"text","color":"#ee1133","fontSize":13,"fontWeight":"bold","baseline":"middle","align":"center"},"encoding":{"x":{"datum":7330,"type":"quantitative","axis":null},"y":{"datum":7600,"type":"quantitative","axis":null},"text":{"field":"t","type":"nominal"}}}
 ]},
{"width":168,"height":151,"title":{"text":"La₀.₈Ca₀.₂CoO₃","offset":-15,"frame":"group","color":"#9b40e6","fontSize":7.5,"fontWeight":"bold"},
 "resolve":{"axis":{"x":"independent","y":"independent"}},
 "layer":[
  {"data":{"name":"p41"},
   "encoding":{
    "x":{"field":"x","type":"quantitative","scale":{"domain":[0,400000],"nice":false},"axis":{"title":"Z' (Ω)","values":[0,100000,200000,300000,400000],"format":".0e","labelExpr":"datum.value == 0 ? substring(datum.label, 0, indexof(datum.label, 'e')) : substring(datum.label, 0, indexof(datum.label, 'e')) + 'x10' + substring('⁰¹²³⁴⁵⁶⁷⁸⁹', toNumber(substring(datum.label, indexof(datum.label, 'e') + 2)), toNumber(substring(datum.label, indexof(datum.label, 'e') + 2)) + 1)"}},
    "y":{"field":"y","type":"quantitative","scale":{"domain":[0,400000],"nice":false},"axis":{"title":"-Z'' (Ω)","values":[0,100000,200000,300000,400000],"format":".0e","labelExpr":"datum.value == 0 ? substring(datum.label, 0, indexof(datum.label, 'e')) : substring(datum.label, 0, indexof(datum.label, 'e')) + 'x10' + substring('⁰¹²³⁴⁵⁶⁷⁸⁹', toNumber(substring(datum.label, indexof(datum.label, 'e') + 2)), toNumber(substring(datum.label, indexof(datum.label, 'e') + 2)) + 1)"}}},
   "layer":[
    {"mark":{"type":"line","strokeWidth":1},"encoding":{"color":{"field":"s","type":"nominal","scale":{"domain":["573 K","623 K","673 K"],"range":["#111111","#ff3040","#5ae824"]},"legend":{"title":null,"orient":"none","legendX":124,"legendY":46}},"order":{"value":null}}},
    {"mark":{"type":"point","filled":true,"size":14,"opacity":1},"encoding":{"color":{"field":"s","type":"nominal","legend":{"title":null,"orient":"none","legendX":124,"legendY":46}},"shape":{"field":"s","type":"nominal","scale":{"domain":["573 K","623 K","673 K"],"range":["square","circle","triangle-up"]},"legend":{"title":null,"orient":"none","legendX":124,"legendY":46}}}}
   ]},
  {"data":{"values":[{"t":"d"}]},"mark":{"type":"text","color":"#ee1133","fontSize":13,"fontWeight":"bold","baseline":"middle","align":"center"},"encoding":{"x":{"datum":367000,"type":"quantitative","axis":null},"y":{"datum":376000,"type":"quantitative","axis":null},"text":{"field":"t","type":"nominal"}}}
 ]},
{"width":180,"height":151,"title":{"text":"La₀.₈Ca₀.₂CoO₃","offset":-15,"frame":"group","color":"#9b40e6","fontSize":7.5,"fontWeight":"bold"},
 "resolve":{"axis":{"x":"independent","y":"independent"}},
 "layer":[
  {"data":{"name":"p42"},
   "encoding":{
    "x":{"field":"x","type":"quantitative","scale":{"domain":[0,35000],"nice":false},"axis":{"title":"Z' (Ω)","values":[0,7000,14000,21000,28000,35000],"format":".1e","labelExpr":"datum.value == 0 ? substring(datum.label, 0, indexof(datum.label, 'e')) : substring(datum.label, 0, indexof(datum.label, 'e')) + 'x10' + substring('⁰¹²³⁴⁵⁶⁷⁸⁹', toNumber(substring(datum.label, indexof(datum.label, 'e') + 2)), toNumber(substring(datum.label, indexof(datum.label, 'e') + 2)) + 1)"}},
    "y":{"field":"y","type":"quantitative","scale":{"domain":[0,35000],"nice":false},"axis":{"title":"-Z'' (Ω)","values":[0,7000,14000,21000,28000,35000],"format":".1e","labelExpr":"datum.value == 0 ? substring(datum.label, 0, indexof(datum.label, 'e')) : substring(datum.label, 0, indexof(datum.label, 'e')) + 'x10' + substring('⁰¹²³⁴⁵⁶⁷⁸⁹', toNumber(substring(datum.label, indexof(datum.label, 'e') + 2)), toNumber(substring(datum.label, indexof(datum.label, 'e') + 2)) + 1)"}}},
   "layer":[
    {"mark":{"type":"line","strokeWidth":1},"encoding":{"color":{"field":"s","type":"nominal","scale":{"domain":["723 K","773 K","823 K"],"range":["#2458c8","#66eebb","#cc44cc"]},"legend":{"title":null,"orient":"none","legendX":135,"legendY":33}},"order":{"value":null}}},
    {"mark":{"type":"point","filled":true,"size":14,"opacity":1},"encoding":{"color":{"field":"s","type":"nominal","legend":{"title":null,"orient":"none","legendX":135,"legendY":33}},"shape":{"field":"s","type":"nominal","scale":{"domain":["723 K","773 K","823 K"],"range":["triangle-down","circle","triangle-left"]},"legend":{"title":null,"orient":"none","legendX":135,"legendY":33}}}}
   ]},
  {"data":{"values":[{"t":"d"}]},"mark":{"type":"text","color":"#ee1133","fontSize":13,"fontWeight":"bold","baseline":"middle","align":"center"},"encoding":{"x":{"datum":32500,"type":"quantitative","axis":null},"y":{"datum":32700,"type":"quantitative","axis":null},"text":{"field":"t","type":"nominal"}}}
 ]},
{"width":180,"height":151,"title":{"text":"La₀.₈Ca₀.₂CoO₃","offset":-15,"frame":"group","color":"#9b40e6","fontSize":7.5,"fontWeight":"bold"},
 "resolve":{"axis":{"x":"independent","y":"independent"}},
 "layer":[
  {"data":{"name":"p43"},
   "encoding":{
    "x":{"field":"x","type":"quantitative","scale":{"domain":[0,5000],"nice":false},"axis":{"title":"Z' (Ω)","values":[0,1000,2000,3000,4000,5000],"format":".0e","labelExpr":"datum.value == 0 ? substring(datum.label, 0, indexof(datum.label, 'e')) : substring(datum.label, 0, indexof(datum.label, 'e')) + 'x10' + substring('⁰¹²³⁴⁵⁶⁷⁸⁹', toNumber(substring(datum.label, indexof(datum.label, 'e') + 2)), toNumber(substring(datum.label, indexof(datum.label, 'e') + 2)) + 1)"}},
    "y":{"field":"y","type":"quantitative","scale":{"domain":[0,5000],"nice":false},"axis":{"title":"-Z'' (Ω)","values":[0,1000,2000,3000,4000,5000],"format":".0e","labelExpr":"datum.value == 0 ? substring(datum.label, 0, indexof(datum.label, 'e')) : substring(datum.label, 0, indexof(datum.label, 'e')) + 'x10' + substring('⁰¹²³⁴⁵⁶⁷⁸⁹', toNumber(substring(datum.label, indexof(datum.label, 'e') + 2)), toNumber(substring(datum.label, indexof(datum.label, 'e') + 2)) + 1)"}}},
   "layer":[
    {"mark":{"type":"line","strokeWidth":1},"encoding":{"color":{"field":"s","type":"nominal","scale":{"domain":["873 K","923 K","973 K","1023 K"],"range":["#ff6633","#5f8a3a","#1a1a99","#33ee33"]},"legend":{"title":null,"orient":"none","legendX":135,"legendY":33}},"order":{"value":null}}},
    {"mark":{"type":"point","filled":true,"size":14,"opacity":1},"encoding":{"color":{"field":"s","type":"nominal","legend":{"title":null,"orient":"none","legendX":135,"legendY":33}},"shape":{"field":"s","type":"nominal","scale":{"domain":["873 K","923 K","973 K","1023 K"],"range":["triangle-right","circle","cross","square"]},"legend":{"title":null,"orient":"none","legendX":135,"legendY":33}}}}
   ]},
  {"data":{"values":[{"t":"d"}]},"mark":{"type":"text","color":"#ee1133","fontSize":13,"fontWeight":"bold","baseline":"middle","align":"center"},"encoding":{"x":{"datum":4500,"type":"quantitative","axis":null},"y":{"datum":4640,"type":"quantitative","axis":null},"text":{"field":"t","type":"nominal"}}}
 ]},
{"width":168,"height":151,"title":{"text":"La₀.₈Sr₀.₂CoO₃","offset":-15,"frame":"group","color":"#9b40e6","fontSize":7.5,"fontWeight":"bold"},
 "resolve":{"axis":{"x":"independent","y":"independent"}},
 "layer":[
  {"data":{"name":"p51"},
   "encoding":{
    "x":{"field":"x","type":"quantitative","scale":{"domain":[0,2000000],"nice":false},"axis":{"title":"Z' (Ω)","values":[0,500000,1000000,1500000,2000000],"format":".1e","labelExpr":"datum.value == 0 ? substring(datum.label, 0, indexof(datum.label, 'e')) : substring(datum.label, 0, indexof(datum.label, 'e')) + 'x10' + substring('⁰¹²³⁴⁵⁶⁷⁸⁹', toNumber(substring(datum.label, indexof(datum.label, 'e') + 2)), toNumber(substring(datum.label, indexof(datum.label, 'e') + 2)) + 1)"}},
    "y":{"field":"y","type":"quantitative","scale":{"domain":[0,1000000],"nice":false},"axis":{"title":"-Z'' (Ω)","values":[0,250000,500000,750000,1000000],"format":".2e","labelExpr":"datum.value == 0 ? substring(datum.label, 0, indexof(datum.label, 'e')) : substring(datum.label, 0, indexof(datum.label, 'e')) + 'x10' + substring('⁰¹²³⁴⁵⁶⁷⁸⁹', toNumber(substring(datum.label, indexof(datum.label, 'e') + 2)), toNumber(substring(datum.label, indexof(datum.label, 'e') + 2)) + 1)"}}},
   "layer":[
    {"mark":{"type":"line","strokeWidth":1},"encoding":{"color":{"field":"s","type":"nominal","scale":{"domain":["573 K","623 K","673 K"],"range":["#111111","#ff3040","#5ae824"]},"legend":{"title":null,"orient":"none","legendX":125,"legendY":40}},"order":{"value":null}}},
    {"mark":{"type":"point","filled":true,"size":14,"opacity":1},"encoding":{"color":{"field":"s","type":"nominal","legend":{"title":null,"orient":"none","legendX":125,"legendY":40}},"shape":{"field":"s","type":"nominal","scale":{"domain":["573 K","623 K","673 K"],"range":["square","circle","triangle-up"]},"legend":{"title":null,"orient":"none","legendX":125,"legendY":40}}}}
   ]},
  {"data":{"values":[{"t":"e"}]},"mark":{"type":"text","color":"#ee1133","fontSize":13,"fontWeight":"bold","baseline":"middle","align":"center"},"encoding":{"x":{"datum":1690000,"type":"quantitative","axis":null},"y":{"datum":940000,"type":"quantitative","axis":null},"text":{"field":"t","type":"nominal"}}}
 ]},
{"width":180,"height":151,"title":{"text":"La₀.₈Sr₀.₂CoO₃","offset":-15,"frame":"group","color":"#9b40e6","fontSize":7.5,"fontWeight":"bold"},
 "resolve":{"axis":{"x":"independent","y":"independent"}},
 "layer":[
  {"data":{"name":"p52"},
   "encoding":{
    "x":{"field":"x","type":"quantitative","scale":{"domain":[0,64000],"nice":false},"axis":{"title":"Z' (Ω)","values":[0,20000,40000,60000],"format":".1e","labelExpr":"datum.value == 0 ? substring(datum.label, 0, indexof(datum.label, 'e')) : substring(datum.label, 0, indexof(datum.label, 'e')) + 'x10' + substring('⁰¹²³⁴⁵⁶⁷⁸⁹', toNumber(substring(datum.label, indexof(datum.label, 'e') + 2)), toNumber(substring(datum.label, indexof(datum.label, 'e') + 2)) + 1)"}},
    "y":{"field":"y","type":"quantitative","scale":{"domain":[0,64500],"nice":false},"axis":{"title":"-Z'' (Ω)","values":[0,20000,40000,60000],"format":".1e","labelExpr":"datum.value == 0 ? substring(datum.label, 0, indexof(datum.label, 'e')) : substring(datum.label, 0, indexof(datum.label, 'e')) + 'x10' + substring('⁰¹²³⁴⁵⁶⁷⁸⁹', toNumber(substring(datum.label, indexof(datum.label, 'e') + 2)), toNumber(substring(datum.label, indexof(datum.label, 'e') + 2)) + 1)"}}},
   "layer":[
    {"mark":{"type":"line","strokeWidth":1},"encoding":{"color":{"field":"s","type":"nominal","scale":{"domain":["723 K","773 K","823 K"],"range":["#2458c8","#66eebb","#bb55ee"]},"legend":{"title":null,"orient":"none","legendX":136,"legendY":40}},"order":{"value":null}}},
    {"mark":{"type":"point","filled":true,"size":14,"opacity":1},"encoding":{"color":{"field":"s","type":"nominal","legend":{"title":null,"orient":"none","legendX":136,"legendY":40}},"shape":{"field":"s","type":"nominal","scale":{"domain":["723 K","773 K","823 K"],"range":["triangle-down","circle","triangle-left"]},"legend":{"title":null,"orient":"none","legendX":136,"legendY":40}}}}
   ]},
  {"data":{"values":[{"t":"e"}]},"mark":{"type":"text","color":"#ee1133","fontSize":13,"fontWeight":"bold","baseline":"middle","align":"center"},"encoding":{"x":{"datum":56200,"type":"quantitative","axis":null},"y":{"datum":61100,"type":"quantitative","axis":null},"text":{"field":"t","type":"nominal"}}}
 ]},
{"width":180,"height":151,"title":{"text":"La₀.₈Sr₀.₂CoO₃","offset":-15,"frame":"group","color":"#9b40e6","fontSize":7.5,"fontWeight":"bold"},
 "resolve":{"axis":{"x":"independent","y":"independent"}},
 "layer":[
  {"data":{"name":"p53"},
   "encoding":{
    "x":{"field":"x","type":"quantitative","scale":{"domain":[0,12500],"nice":false},"axis":{"title":"Z' (Ω)","values":[0,2000,4000,6000,8000,10000,12000],"format":".1e","labelExpr":"datum.value == 0 ? substring(datum.label, 0, indexof(datum.label, 'e')) : substring(datum.label, 0, indexof(datum.label, 'e')) + 'x10' + substring('⁰¹²³⁴⁵⁶⁷⁸⁹', toNumber(substring(datum.label, indexof(datum.label, 'e') + 2)), toNumber(substring(datum.label, indexof(datum.label, 'e') + 2)) + 1)"}},
    "y":{"field":"y","type":"quantitative","scale":{"domain":[0,12200],"nice":false},"axis":{"title":"-Z'' (Ω)","values":[0,2000,4000,6000,8000,10000,12000],"format":".1e","labelExpr":"datum.value == 0 ? substring(datum.label, 0, indexof(datum.label, 'e')) : substring(datum.label, 0, indexof(datum.label, 'e')) + 'x10' + substring('⁰¹²³⁴⁵⁶⁷⁸⁹', toNumber(substring(datum.label, indexof(datum.label, 'e') + 2)), toNumber(substring(datum.label, indexof(datum.label, 'e') + 2)) + 1)"}}},
   "layer":[
    {"mark":{"type":"line","strokeWidth":1},"encoding":{"color":{"field":"s","type":"nominal","scale":{"domain":["873 K","923 K","973 K","1023 K"],"range":["#66dd22","#ff3366","#1a2a9a","#7744ee"]},"legend":{"title":null,"orient":"none","legendX":133,"legendY":42}},"order":{"value":null}}},
    {"mark":{"type":"point","filled":true,"size":14,"opacity":1},"encoding":{"color":{"field":"s","type":"nominal","legend":{"title":null,"orient":"none","legendX":133,"legendY":42}},"shape":{"field":"s","type":"nominal","scale":{"domain":["873 K","923 K","973 K","1023 K"],"range":["triangle-right","circle","circle","square"]},"legend":{"title":null,"orient":"none","legendX":133,"legendY":42}}}}
   ]},
  {"data":{"values":[{"t":"e"}]},"mark":{"type":"text","color":"#ee1133","fontSize":13,"fontWeight":"bold","baseline":"middle","align":"center"},"encoding":{"x":{"datum":9860,"type":"quantitative","axis":null},"y":{"datum":11070,"type":"quantitative","axis":null},"text":{"field":"t","type":"nominal"}}}
 ]},
{"width":168,"height":151,"title":{"text":"La₀.₈Ba₀.₂CoO₃","offset":-15,"frame":"group","color":"#9b40e6","fontSize":7.5,"fontWeight":"bold"},
 "resolve":{"axis":{"x":"independent","y":"independent"}},
 "layer":[
  {"data":{"name":"p61"},
   "encoding":{
    "x":{"field":"x","type":"quantitative","scale":{"domain":[0,800000],"nice":false},"axis":{"title":"Z' (Ω)","values":[0,200000,400000,600000,800000],"format":".1e","labelExpr":"datum.value == 0 ? substring(datum.label, 0, indexof(datum.label, 'e')) : substring(datum.label, 0, indexof(datum.label, 'e')) + 'x10' + substring('⁰¹²³⁴⁵⁶⁷⁸⁹', toNumber(substring(datum.label, indexof(datum.label, 'e') + 2)), toNumber(substring(datum.label, indexof(datum.label, 'e') + 2)) + 1)"}},
    "y":{"field":"y","type":"quantitative","scale":{"domain":[0,800000],"nice":false},"axis":{"title":"-Z'' (Ω)","values":[0,200000,400000,600000,800000],"format":".1e","labelExpr":"datum.value == 0 ? substring(datum.label, 0, indexof(datum.label, 'e')) : substring(datum.label, 0, indexof(datum.label, 'e')) + 'x10' + substring('⁰¹²³⁴⁵⁶⁷⁸⁹', toNumber(substring(datum.label, indexof(datum.label, 'e') + 2)), toNumber(substring(datum.label, indexof(datum.label, 'e') + 2)) + 1)"}}},
   "layer":[
    {"mark":{"type":"line","strokeWidth":1},"encoding":{"color":{"field":"s","type":"nominal","scale":{"domain":["573 K","623 K","673 K"],"range":["#111111","#ff3040","#2a5ae0"]},"legend":{"title":null,"orient":"none","legendX":126,"legendY":43}},"order":{"value":null}}},
    {"mark":{"type":"point","filled":true,"size":14,"opacity":1},"encoding":{"color":{"field":"s","type":"nominal","legend":{"title":null,"orient":"none","legendX":126,"legendY":43}},"shape":{"field":"s","type":"nominal","scale":{"domain":["573 K","623 K","673 K"],"range":["square","circle","triangle-up"]},"legend":{"title":null,"orient":"none","legendX":126,"legendY":43}}}}
   ]},
  {"data":{"values":[{"t":"f"}]},"mark":{"type":"text","color":"#ee1133","fontSize":13,"fontWeight":"bold","baseline":"middle","align":"center"},"encoding":{"x":{"datum":686000,"type":"quantitative","axis":null},"y":{"datum":747000,"type":"quantitative","axis":null},"text":{"field":"t","type":"nominal"}}}
 ]},
{"width":180,"height":151,"title":{"text":"La₀.₈Ba₀.₂CoO₃","offset":-15,"frame":"group","color":"#9b40e6","fontSize":7.5,"fontWeight":"bold"},
 "resolve":{"axis":{"x":"independent","y":"independent"}},
 "layer":[
  {"data":{"name":"p62"},
   "encoding":{
    "x":{"field":"x","type":"quantitative","scale":{"domain":[0,50000],"nice":false},"axis":{"title":"Z' (Ω)","values":[0,10000,20000,30000,40000,50000],"format":".0e","labelExpr":"datum.value == 0 ? substring(datum.label, 0, indexof(datum.label, 'e')) : substring(datum.label, 0, indexof(datum.label, 'e')) + 'x10' + substring('⁰¹²³⁴⁵⁶⁷⁸⁹', toNumber(substring(datum.label, indexof(datum.label, 'e') + 2)), toNumber(substring(datum.label, indexof(datum.label, 'e') + 2)) + 1)"}},
    "y":{"field":"y","type":"quantitative","scale":{"domain":[0,50000],"nice":false},"axis":{"title":"-Z'' (Ω)","values":[0,10000,20000,30000,40000,50000],"format":".0e","labelExpr":"datum.value == 0 ? substring(datum.label, 0, indexof(datum.label, 'e')) : substring(datum.label, 0, indexof(datum.label, 'e')) + 'x10' + substring('⁰¹²³⁴⁵⁶⁷⁸⁹', toNumber(substring(datum.label, indexof(datum.label, 'e') + 2)), toNumber(substring(datum.label, indexof(datum.label, 'e') + 2)) + 1)"}}},
   "layer":[
    {"mark":{"type":"line","strokeWidth":1},"encoding":{"color":{"field":"s","type":"nominal","scale":{"domain":["723 K","773 K","823 K"],"range":["#cc66ee","#22bb22","#1a2384"]},"legend":{"title":null,"orient":"none","legendX":135,"legendY":42}},"order":{"value":null}}},
    {"mark":{"type":"point","filled":true,"size":14,"opacity":1},"encoding":{"color":{"field":"s","type":"nominal","legend":{"title":null,"orient":"none","legendX":135,"legendY":42}},"shape":{"field":"s","type":"nominal","scale":{"domain":["723 K","773 K","823 K"],"range":["triangle-down","diamond","cross"]},"legend":{"title":null,"orient":"none","legendX":135,"legendY":42}}}}
   ]},
  {"data":{"values":[{"t":"f"}]},"mark":{"type":"text","color":"#ee1133","fontSize":13,"fontWeight":"bold","baseline":"middle","align":"center"},"encoding":{"x":{"datum":42200,"type":"quantitative","axis":null},"y":{"datum":46700,"type":"quantitative","axis":null},"text":{"field":"t","type":"nominal"}}}
 ]},
{"width":180,"height":151,"title":{"text":"La₀.₈Ba₀.₂CoO₃","offset":-15,"frame":"group","color":"#9b40e6","fontSize":7.5,"fontWeight":"bold"},
 "resolve":{"axis":{"x":"independent","y":"independent"}},
 "layer":[
  {"data":{"name":"p63"},
   "encoding":{
    "x":{"field":"x","type":"quantitative","scale":{"domain":[0,6000],"nice":false},"axis":{"title":"Z' (Ω)","values":[0,2000,4000,6000],"format":".1e","labelExpr":"datum.value == 0 ? substring(datum.label, 0, indexof(datum.label, 'e')) : substring(datum.label, 0, indexof(datum.label, 'e')) + 'x10' + substring('⁰¹²³⁴⁵⁶⁷⁸⁹', toNumber(substring(datum.label, indexof(datum.label, 'e') + 2)), toNumber(substring(datum.label, indexof(datum.label, 'e') + 2)) + 1)"}},
    "y":{"field":"y","type":"quantitative","scale":{"domain":[0,6000],"nice":false},"axis":{"title":"-Z'' (Ω)","values":[0,2000,4000,6000],"format":".1e","labelExpr":"datum.value == 0 ? substring(datum.label, 0, indexof(datum.label, 'e')) : substring(datum.label, 0, indexof(datum.label, 'e')) + 'x10' + substring('⁰¹²³⁴⁵⁶⁷⁸⁹', toNumber(substring(datum.label, indexof(datum.label, 'e') + 2)), toNumber(substring(datum.label, indexof(datum.label, 'e') + 2)) + 1)"}}},
   "layer":[
    {"mark":{"type":"line","strokeWidth":1},"encoding":{"color":{"field":"s","type":"nominal","scale":{"domain":["873 K","923 K","973 K","1023 K"],"range":["#5a50cf","#8a2be2","#44ee44","#ff7755"]},"legend":{"title":null,"orient":"none","legendX":131,"legendY":34}},"order":{"value":null}}},
    {"mark":{"type":"point","filled":true,"size":14,"opacity":1},"encoding":{"color":{"field":"s","type":"nominal","legend":{"title":null,"orient":"none","legendX":131,"legendY":34}},"shape":{"field":"s","type":"nominal","scale":{"domain":["873 K","923 K","973 K","1023 K"],"range":["triangle-right","square","circle","diamond"]},"legend":{"title":null,"orient":"none","legendX":131,"legendY":34}}}}
   ]},
  {"data":{"values":[{"t":"f"}]},"mark":{"type":"text","color":"#ee1133","fontSize":13,"fontWeight":"bold","baseline":"middle","align":"center"},"encoding":{"x":{"datum":5230,"type":"quantitative","axis":null},"y":{"datum":5600,"type":"quantitative","axis":null},"text":{"field":"t","type":"nominal"}}}
 ]}
]
}
